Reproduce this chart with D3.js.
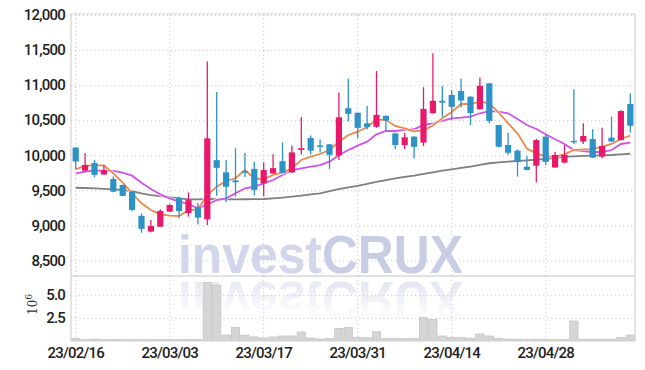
<!DOCTYPE html>
<html>
<head>
<meta charset="utf-8">
<script src="https://cdn.jsdelivr.net/npm/d3@7"></script>
<style>
  body { margin: 0; background: #fff; }
  svg text { font-family: Roboto, "DejaVu Sans Condensed", sans-serif; }
</style>
</head>
<body>
<div id="chart"></div>
<script>
// trading days shown on the chart (KRX calendar)
const dates = [
  '23/02/16','23/02/17','23/02/20','23/02/21','23/02/22','23/02/23','23/02/24','23/02/27','23/02/28',
  '23/03/02','23/03/03','23/03/06','23/03/07','23/03/08','23/03/09','23/03/10','23/03/13','23/03/14',
  '23/03/15','23/03/16','23/03/17','23/03/20','23/03/21','23/03/22','23/03/23','23/03/24','23/03/27',
  '23/03/28','23/03/29','23/03/30','23/03/31','23/04/03','23/04/04','23/04/05','23/04/06','23/04/07',
  '23/04/10','23/04/11','23/04/12','23/04/13','23/04/14','23/04/17','23/04/18','23/04/19','23/04/20',
  '23/04/21','23/04/24','23/04/25','23/04/26','23/04/27','23/04/28','23/05/02','23/05/03','23/05/04',
  '23/05/08','23/05/09','23/05/10','23/05/11','23/05/12','23/05/15'
];
const tickDates = ['23/02/16', '23/03/03', '23/03/17', '23/03/31', '23/04/14', '23/04/28'];

const open = [10110, 9780, 9890, 9725, 9660, 9575, 9475, 9135, 8910, 8980,
  9195, 9390, 9175, 9260, 9085, 9930, 9755, 9640, 9770, 9805,
  9600, 9740, 9915, 9755, 10075, 10245, 10140, 10155, 9995, 10670,
  10605, 10455, 10405, 10560, 10310, 10145, 10265, 10180, 10600, 10775,
  10860, 10915, 10835, 10655, 11025, 10430, 10145, 10065, 9835, 9850,
  10265, 9825, 9895, 10205, 10195, 10230, 9980, 10250, 10215, 10730];
const high = [10110, 10030, 9935, 9860, 9695, 9580, 9490, 9170, 9075, 9230,
  9300, 9410, 9470, 9320, 11335, 10900, 9930, 10100, 10030, 9905,
  9900, 10015, 10185, 10140, 10545, 10280, 10225, 10160, 10895, 11095,
  10610, 10700, 11200, 10570, 10320, 10320, 10270, 10970, 11455, 10990,
  10930, 11095, 10840, 11110, 11030, 10435, 10320, 10085, 9990, 10230,
  10290, 10050, 10145, 10940, 10455, 10370, 10390, 10550, 10640, 10885];
const low = [9800, 9765, 9685, 9720, 9470, 9415, 9200, 8895, 8900, 8980,
  9185, 9100, 9125, 9010, 9005, 9420, 9330, 9410, 9690, 9430,
  9410, 9740, 9745, 9745, 10010, 10010, 10040, 9800, 9930, 10480,
  10240, 10365, 10390, 10350, 10085, 10090, 9955, 10130, 10590, 10550,
  10500, 10680, 10430, 10650, 10455, 10115, 10005, 9695, 9785, 9610,
  9860, 9820, 9885, 10160, 10160, 9960, 9955, 10190, 10215, 10325];
const close = [9910, 9860, 9720, 9785, 9480, 9420, 9220, 8950, 8990, 9205,
  9290, 9205, 9360, 9110, 10240, 9820, 9550, 9615, 9760, 9505,
  9790, 9815, 9750, 10040, 10100, 10065, 10125, 10005, 10540, 10590,
  10390, 10400, 10575, 10495, 10145, 10255, 10120, 10660, 10775, 10750,
  10690, 10780, 10600, 10990, 10490, 10120, 10035, 9905, 9790, 10215,
  9905, 10005, 10005, 10190, 10275, 9965, 10130, 10195, 10630, 10420];

// moving averages as drawn
const ma5 = [9799, 9850, 9856, 9856, 9742, 9608, 9457, 9314, 9218, 9157,
  9137, 9133, 9218, 9228, 9432, 9551, 9632, 9671, 9789, 9671,
  9656, 9718, 9750, 9813, 9932, 9979, 10017, 10074, 10193, 10288,
  10335, 10398, 10512, 10502, 10417, 10384, 10341, 10355, 10424, 10526,
  10616, 10730, 10730, 10763, 10740, 10609, 10455, 10312, 10093, 10027,
  9984, 9979, 10013, 10074, 10084, 10088, 10121, 10160, 10231, 10278];
const ma10 = [9742, 9765, 9779, 9779, 9775, 9750, 9708, 9608, 9518, 9442,
  9385, 9337, 9304, 9243, 9297, 9361, 9385, 9457, 9528, 9551,
  9599, 9646, 9718, 9789, 9813, 9836, 9860, 9907, 10003, 10074,
  10136, 10193, 10298, 10345, 10345, 10360, 10370, 10431, 10455, 10488,
  10526, 10535, 10549, 10598, 10628, 10621, 10598, 10516, 10431, 10374,
  10298, 10227, 10160, 10074, 10060, 10046, 10046, 10074, 10160, 10178];
const ma60 = [9536, 9532, 9527, 9521, 9514, 9505, 9486, 9455, 9432, 9415,
  9400, 9385, 9371, 9370, 9375, 9373, 9372, 9371, 9372, 9373,
  9375, 9384, 9395, 9408, 9422, 9440, 9457, 9488, 9515, 9542,
  9561, 9590, 9618, 9646, 9668, 9690, 9708, 9735, 9755, 9779,
  9797, 9818, 9836, 9862, 9885, 9897, 9907, 9917, 9927, 9937,
  9946, 9962, 9979, 9984, 9989, 9993, 9998, 10003, 10012, 10021];

const volume = [0.24, 0.05, 0.16, 0.05, 0.05, 0.01, 0.05, 0.05, 0.04, 0.03,
  0.01, 0.05, 0.05, 0.05, 6.41, 6.11, 0.6, 1.45, 0.6, 0.39,
  0.28, 0.39, 0.5, 0.5, 0.94, 0.28, 0.17, 0.24, 1.34, 1.45,
  0.35, 0.3, 0.97, 0.2, 0.25, 0.2, 0.25, 2.51, 2.33, 0.5,
  0.32, 0.32, 0.25, 0.72, 0.5, 0.25, 0.17, 0.15, 0.05, 0.15,
  0.15, 0.05, 0.05, 2.15, 0.15, 0.15, 0.15, 0.15, 0.35, 0.6].map(v => v * 1e6);

const priceTicks = [8500, 9000, 9500, 10000, 10500, 11000, 11500, 12000];
const volTicks = [2.5e6, 5e6];

const width = 645, height = 370;
const m = { left: 71, right: 635, top: 14, mid: 276, bottom: 341 };
const upColor = '#e8196b', downColor = '#2d92c6';
const gridColor = '#c6cadb';

const svg = d3.select('#chart').append('svg')
  .attr('width', width)
  .attr('height', height);

const x = d3.scaleBand().domain(dates).range([m.left, m.right]);
const bw = x.bandwidth();
const cx = d => x(d) + bw / 2;
const y = d3.scaleLinear().domain([8277, 12014]).range([m.mid, m.top]);
const yv = d3.scaleLinear().domain([0, 7.1e6]).range([340.5, m.mid]);

// --- grids ---
function styleGrid(g) {
  g.select('.domain').remove();
  g.selectAll('text').remove();
  g.selectAll('line').attr('stroke', gridColor).attr('stroke-dasharray', '1.2,2.8');
}
svg.append('g').attr('transform', `translate(${m.left},0)`)
  .call(d3.axisLeft(y).tickValues(priceTicks).tickSize(-(m.right - m.left)))
  .call(styleGrid);
svg.append('g').attr('transform', `translate(${m.left},0)`)
  .call(d3.axisLeft(yv).tickValues(volTicks).tickSize(-(m.right - m.left)))
  .call(styleGrid);
svg.append('g').attr('transform', `translate(0,${m.mid})`)
  .call(d3.axisBottom(x).tickValues(tickDates).tickSize(-(m.mid - m.top)))
  .call(styleGrid);
svg.append('g').attr('transform', `translate(0,${m.bottom})`)
  .call(d3.axisBottom(x).tickValues(tickDates).tickSize(-(m.bottom - m.mid)))
  .call(styleGrid);

// --- watermark + reflection ---
const defs = svg.append('defs');
const grad = defs.append('linearGradient').attr('id', 'fade')
  .attr('gradientUnits', 'userSpaceOnUse')
  .attr('x1', 0).attr('y1', m.mid).attr('x2', 0).attr('y2', m.mid + 42);
grad.append('stop').attr('offset', 0).attr('stop-color', '#fff').attr('stop-opacity', 0.6);
grad.append('stop').attr('offset', 1).attr('stop-color', '#fff').attr('stop-opacity', 0);
defs.append('mask').attr('id', 'reflmask')
  .attr('maskUnits', 'userSpaceOnUse')
  .attr('x', 0).attr('y', m.mid).attr('width', width).attr('height', 60)
  .append('rect').attr('x', 0).attr('y', m.mid).attr('width', width).attr('height', 60)
  .attr('fill', 'url(#fade)');

defs.append('text').attr('id', 'wm')
  .attr('x', 178).attr('y', 273)
  .attr('textLength', 285).attr('lengthAdjust', 'spacingAndGlyphs')
  .style('font-family', '"Liberation Sans", Arial, sans-serif')
  .style('font-weight', 'bold')
  .style('font-size', '54px')
  .call(t => t.append('tspan').attr('fill', '#d2d6ea').text('invest'))
  .call(t => t.append('tspan').attr('fill', '#c8cde4').text('CRUX'));

svg.append('use').attr('href', '#wm');
svg.append('g').attr('mask', 'url(#reflmask)')
  .append('use').attr('href', '#wm')
  .attr('transform', `translate(0,${2 * m.mid + 3}) scale(1,-1)`);

// --- volume ---
svg.append('g').selectAll('rect')
  .data(dates)
  .join('rect')
  .attr('x', d => x(d) + 0.5)
  .attr('width', bw - 1)
  .attr('y', (d, i) => Math.min(yv(volume[i]), 339.5))
  .attr('height', (d, i) => Math.max(340.5 - yv(volume[i]), 1))
  .attr('fill', '#d5d5d5')
  .attr('stroke', '#bdbdbd')
  .attr('stroke-width', 0.6);

// --- frame ---
const frame = svg.append('g').attr('stroke', '#d2d2d2').attr('stroke-width', 1.2).attr('fill', 'none');
frame.append('line').attr('x1', m.left).attr('x2', m.right).attr('y1', m.top).attr('y2', m.top);
frame.append('line').attr('x1', m.left).attr('x2', m.right).attr('y1', m.mid).attr('y2', m.mid).attr('stroke', '#c4c4c4');
frame.append('line').attr('x1', m.left).attr('x2', m.right).attr('y1', m.bottom).attr('y2', m.bottom);
frame.append('line').attr('x1', m.left).attr('x2', m.left).attr('y1', m.top).attr('y2', m.bottom);
frame.append('line').attr('x1', m.right).attr('x2', m.right).attr('y1', m.top).attr('y2', m.bottom);

// --- moving averages ---
const series = [
  { values: ma60, color: '#7f7f7f' },
  { values: ma10, color: '#cf52ea' },
  { values: ma5, color: '#ef874a' },
];
const line = d3.line().x((v, i) => cx(dates[i])).y(v => y(v));
for (const s of series) {
  svg.append('path').datum(s.values)
    .attr('fill', 'none').attr('stroke', '#fff').attr('stroke-opacity', 0.7)
    .attr('stroke-width', 3.5).attr('d', line);
  svg.append('path').datum(s.values)
    .attr('fill', 'none').attr('stroke', s.color)
    .attr('stroke-width', 1.8).attr('d', line);
}

// --- candles ---
const candles = svg.append('g').selectAll('g')
  .data(dates)
  .join('g');
const col = i => close[i] >= open[i] ? upColor : downColor;
candles.append('line')
  .attr('x1', d => cx(d)).attr('x2', d => cx(d))
  .attr('y1', (d, i) => y(high[i])).attr('y2', (d, i) => y(low[i]))
  .attr('stroke', (d, i) => col(i)).attr('stroke-width', 1.3);
const cw = 6.2;
candles.append('rect')
  .attr('x', d => cx(d) - cw / 2)
  .attr('width', cw)
  .attr('y', (d, i) => y(Math.max(open[i], close[i])))
  .attr('height', (d, i) => Math.max(Math.abs(y(open[i]) - y(close[i])), 1.5))
  .attr('fill', (d, i) => col(i));

// --- axis labels ---
function styleLabels(g) {
  g.select('.domain').remove();
  g.selectAll('text').attr('fill', '#1e1e1e')
    .style('font-size', '15px').style('font-weight', 500).style('letter-spacing', '-0.8px');
}
svg.append('g').attr('transform', `translate(${m.left},0)`)
  .call(d3.axisLeft(y).tickValues(priceTicks).tickSize(0).tickPadding(6).tickFormat(d3.format(',')))
  .call(styleLabels);
svg.append('g').attr('transform', `translate(${m.left},0)`)
  .call(d3.axisLeft(yv).tickValues(volTicks).tickSize(0).tickPadding(6).tickFormat(v => (v / 1e6).toFixed(1)))
  .call(styleLabels);
svg.append('g').attr('transform', `translate(0,${m.bottom})`)
  .call(d3.axisBottom(x).tickValues(tickDates).tickSize(0).tickPadding(6))
  .call(styleLabels);

const unit = svg.append('text')
  .attr('transform', 'translate(37,315) rotate(-90)')
  .attr('fill', '#333')
  .style('font-family', '"DejaVu Serif", serif')
  .style('font-size', '12px');
unit.append('tspan').text('10');
unit.append('tspan').attr('dy', -5).style('font-size', '9px').text('6');
</script>
</body>
</html>
